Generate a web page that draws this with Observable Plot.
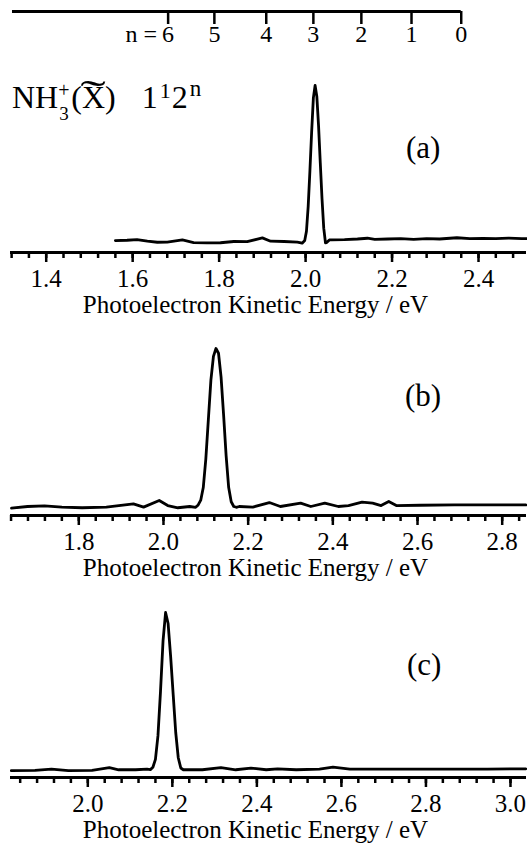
<!DOCTYPE html>
<html><head><meta charset="utf-8">
<script src="https://cdn.jsdelivr.net/npm/d3@7"></script>
<script src="https://cdn.jsdelivr.net/npm/@observablehq/plot@0.6"></script>
<style>
body{margin:0;background:#fff;}
#fig{position:relative;width:527px;height:852px;overflow:hidden;font-family:"Liberation Serif","Times New Roman",serif;color:#000;background:#fff;}
#fig svg, #fig svg text{font-family:"Liberation Serif","Times New Roman",serif !important;}
.abs{position:absolute;line-height:1;white-space:nowrap;}
.stk{display:inline-block;position:relative;width:13px;height:32px;}
.sp{position:absolute;left:0;top:4px;font-size:20px;line-height:1;}
.sb{position:absolute;left:1px;top:28px;font-size:19px;line-height:1;}
.xt{display:inline-block;position:relative;}
.tilde{position:absolute;left:50%;top:-3px;font-size:32px;line-height:1;transform:translateX(-50%) scale(2.4,1.2);}
.up1{font-size:22px;position:relative;top:-10px;margin-left:2px;margin-right:1px;}
.upn{font-size:23px;position:relative;top:-12px;margin-left:2px;}
.panel{position:absolute;left:0;}
</style></head><body><div id="fig"></div>
<script>
// progression comb (n labels and their energies on the panel (a) scale)
const combLabels = ["6","5","4","3","2","1","0"];
const combEnergy = [1.682, 1.789, 1.909, 2.018, 2.129, 2.245, 2.360];
const combPrefix = ["n ="];
const combLine = [{x1: 1.322, x2: 2.360}];

// axis tick labels
const ticksA = [1.4, 1.6, 1.8, 2.0, 2.2, 2.4];
const ticksB = [1.8, 2.0, 2.2, 2.4, 2.6, 2.8];
const ticksC = [2.0, 2.2, 2.4, 2.6, 2.8, 3.0];
const axisTitle = "Photoelectron Kinetic Energy / eV";
const panelNames = ["(a)", "(b)", "(c)"];

// spectrum (a)
const energyA = [1.560,1.587,1.610,1.634,1.657,1.680,1.715,1.741,1.772,1.803,1.834,1.865,1.900,1.919,1.950,1.981,1.992,
  1.998,2.002,2.006,2.010,2.014,2.018,2.022,2.026,2.030,2.034,2.038,2.042,2.046,2.050,2.055,
  2.060,2.090,2.120,2.143,2.160,2.190,2.220,2.250,2.280,2.310,2.350,2.380,2.410,2.440,2.470,2.500,2.511];
const signalA = [0,0.002,0.006,-0.004,-0.011,-0.010,0.004,-0.013,-0.015,-0.014,-0.006,-0.007,0.017,-0.004,-0.006,-0.010,-0.017,
  0.0,0.06,0.22,0.45,0.70,0.92,1.0,0.93,0.74,0.50,0.27,0.08,-0.015,-0.01,0.004,
  0.004,0.006,0.010,0.015,0.008,0.010,0.012,0.008,0.012,0.010,0.018,0.012,0.014,0.012,0.016,0.013,0.013];

// spectrum (b)
const energyB = [1.641,1.679,1.719,1.760,1.808,1.865,1.929,1.953,1.990,2.010,2.034,2.062,2.076,
  2.082,2.088,2.094,2.100,2.106,2.112,2.118,2.124,2.130,2.136,2.142,2.148,2.154,2.160,2.166,2.172,
  2.179,2.211,2.250,2.276,2.324,2.348,2.381,2.413,2.437,2.469,2.494,2.514,2.532,2.550,2.606,2.687,2.768,2.856];
const signalB = [-0.010,0,0.004,-0.004,-0.008,-0.004,0.017,-0.004,0.038,0.006,-0.008,0,-0.005,
  0.01,0.04,0.12,0.30,0.55,0.80,0.95,1.0,0.97,0.82,0.58,0.32,0.12,0.03,0.0,-0.005,
  0.0,-0.004,0.025,0.0,0.021,0.0,0.021,0.0,0.006,0.027,0.021,0.006,0.032,0.006,0.008,0.010,0.010,0.010];

// spectrum (c)
const energyC = [1.819,1.875,1.914,1.954,2.010,2.051,2.073,2.113,2.140,
  2.148,2.154,2.160,2.166,2.172,2.178,2.184,2.190,2.196,2.202,2.208,2.214,2.220,2.226,
  2.271,2.315,2.350,2.386,2.422,2.449,2.493,2.548,2.580,2.620,2.707,2.826,2.945,3.036];
const signalC = [-0.002,0,0.008,-0.002,0,0.017,0.004,0.004,0.008,
  0.005,0.02,0.07,0.22,0.50,0.82,1.0,0.93,0.72,0.48,0.24,0.08,0.015,0.004,
  0.004,0.017,0.004,0.015,0.004,0.01,0.004,0.008,0.021,0.008,0.008,0.008,0.008,0.01];

const fig = document.getElementById("fig");
const W = 527, ML = 10, MR = 1;
const FONT = '"Liberation Serif", "Times New Roman", serif';
const domA = [1.3174, 2.511], domB = [1.6387, 2.8574], domC = [1.8171, 3.0379];

function place(node, left, top) {
  const d = document.createElement("div");
  d.className = "panel";
  d.style.left = left + "px";
  d.style.top = top + "px";
  d.appendChild(node);
  fig.appendChild(d);
}

// comb at the top
const combTable = combEnergy.map((E, i) => ({E, n: combLabels[i]}));
const comb = Plot.plot({
  width: W, height: 50, marginLeft: ML, marginRight: MR, marginTop: 11, marginBottom: 26,
  x: {domain: domA, axis: null},
  y: {domain: [0, 1], axis: null},
  style: {background: "transparent", overflow: "visible"},
  marks: [
    Plot.ruleY(combLine, {x1: "x1", x2: "x2", y: () => 1, stroke: "black", strokeWidth: 3}),
    Plot.ruleX(combTable, {x: "E", y1: () => 1, y2: () => 0, stroke: "black", strokeWidth: 2.5}),
    Plot.text(combTable, {x: "E", y: () => 0, text: "n", dy: 10, fontSize: 24, fontFamily: FONT, fill: "black"}),
    Plot.text(combPrefix, {x: () => combEnergy[0], y: () => 0, text: d => d, dy: 10, dx: -11, textAnchor: "end", fontSize: 24, fontFamily: FONT, fill: "black"})
  ]
});
place(comb, 0, 0);

function panel(energy, signal, dom, ticks, minor, yFloor, top, height, marginTop) {
  const data = energy.map((E, i) => ({E, I: signal[i]}));
  return {node: Plot.plot({
    width: W, height, marginLeft: ML, marginRight: MR, marginTop, marginBottom: 75,
    x: {domain: dom},
    y: {domain: [yFloor, 1], axis: null},
    style: {background: "transparent", overflow: "visible"},
    marks: [
      Plot.axisX(minor, {tickSize: 6, tickFormat: () => "", strokeWidth: 2.5, label: null}),
      Plot.axisX(ticks, {tickSize: 10, tickPadding: 7, tickFormat: d3.format(".1f"), strokeWidth: 2.5, fontSize: 25, fontFamily: FONT, label: null, fill: "black"}),
      Plot.ruleY([yFloor], {stroke: "black", strokeWidth: 3}),
      Plot.line(data, {x: "E", y: "I", stroke: "black", strokeWidth: 2.8, curve: "linear", strokeLinejoin: "round"}),
      Plot.text([axisTitle], {frameAnchor: "bottom", text: d => d, dy: 60, dx: -13, fontSize: 25, fontFamily: FONT, fill: "black"})
    ]
  }), top};
}

const minorA = d3.range(33, 63).map(k => k * 0.04);
const minorB = d3.range(41, 72).map(k => k * 0.04);
const minorC = d3.range(46, 76).map(k => k * 0.04);

const pA = panel(energyA, signalA, domA, ticksA, minorA, -0.077, 60, 267, 25);
const pB = panel(energyB, signalB, domB, ticksB, minorB, -0.057, 320, 270, 28);
const pC = panel(energyC, signalC, domC, ticksC, minorC, -0.045, 590, 262, 22);
[pA, pB, pC].forEach(p => place(p.node, 0, p.top));

// panel labels
const labelPos = [[406, 132], [405, 380], [407, 649]];
panelNames.forEach((t, i) => {
  const d = document.createElement("div");
  d.className = "abs";
  d.style.fontSize = "31px";
  d.style.left = labelPos[i][0] + "px";
  d.style.top = labelPos[i][1] + "px";
  d.textContent = t;
  fig.appendChild(d);
});

// title
const title = document.createElement("div");
title.className = "abs";
title.style.fontSize = "32px";
title.style.left = "12px";
title.style.top = (103 - 0.8375 * 32) + "px";
title.innerHTML = 'NH<span class="stk"><span class="sp">+</span><span class="sb">3</span></span>(<span class="xt">X<span class="tilde">\u02DC</span></span>)<span style="margin-left:26px">1</span><span class="up1">1</span>2<span class="upn">n</span>';
fig.appendChild(title);
</script>
</body></html>
